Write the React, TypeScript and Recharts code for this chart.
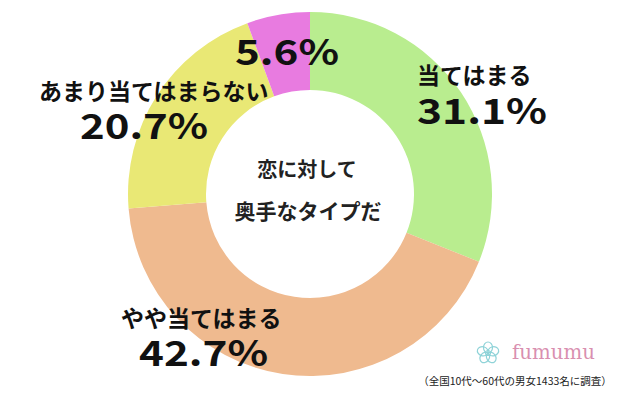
import React from "react";
import { PieChart, Pie, Cell } from "recharts";

const categories = ["当てはまる", "やや当てはまる", "あまり当てはまらない", "当てはまらない"];
const values = [31.1, 42.7, 20.7, 5.6];
const showName = [true, true, true, false];
const colors = ["#b9ed8f", "#efba8f", "#e9e875", "#e87be0"];

const centerLines = ["恋に対して", "奥手なタイプだ"];
const footerNote = "（全国10代～60代の男女1433名に調査）";
const brand = "fumumu";

const data = categories.map((name, i) => ({ name, value: values[i] }));

// label layout (positions only)
const LABEL_LAYOUT: Record<string, { nx: number; ny: number; vx: number; vy: number; vw: number }> = {
  "当てはまる": { nx: 417, ny: 84, vx: 417, vy: 124, vw: 130 },
  "やや当てはまる": { nx: 121, ny: 327, vx: 139, vy: 366, vw: 129 },
  "あまり当てはまらない": { nx: 39, ny: 100, vx: 80, vy: 139, vw: 128 },
  "当てはまらない": { nx: 0, ny: 0, vx: 235, vy: 65, vw: 104 },
};

const FONT = "'Noto Sans CJK JP', 'Noto Sans', sans-serif";

const renderLabel = (props: any) => {
  const name = props.name ?? props.payload?.name;
  const value = props.value ?? props.payload?.value;
  const idx = categories.indexOf(name);
  const L = LABEL_LAYOUT[name];
  if (!L) return null;
  return (
    <g key={name}>
      {showName[idx] && (
        <text x={L.nx} y={L.ny} fontSize={23} fontWeight={700} fill="#111" fontFamily={FONT} textAnchor="start">
          {name}
        </text>
      )}
      <text
        x={L.vx}
        y={L.vy}
        fontSize={35}
        fontWeight={700}
        fill="#111"
        fontFamily={FONT}
        textAnchor="start"
        textLength={L.vw}
        lengthAdjust="spacingAndGlyphs"
      >
        {`${value.toFixed(1)}%`}
      </text>
    </g>
  );
};

export default function App() {
  return (
    <div style={{ position: "absolute", left: 0, top: 0, width: 621, height: 398, background: "#fff", fontFamily: FONT }}>
      <PieChart width={621} height={398} margin={{ top: 0, right: 0, bottom: 0, left: 0 }}>
        <Pie
          data={data}
          dataKey="value"
          nameKey="name"
          cx={310}
          cy={194}
          innerRadius={104}
          outerRadius={182}
          startAngle={90}
          endAngle={-270}
          stroke="none"
          isAnimationActive={false}
          label={renderLabel}
          labelLine={false}
        >
          {data.map((d, i) => (
            <Cell key={d.name} fill={colors[i]} />
          ))}
        </Pie>
      </PieChart>
      <svg width={621} height={398} style={{ position: "absolute", left: 0, top: 0, pointerEvents: "none" }}>
        <text x={307} y={177} fontSize={20} fontWeight={700} fill="#222" fontFamily={FONT} textAnchor="middle">
          {centerLines[0]}
        </text>
        <text x={308} y={219} fontSize={21} fontWeight={700} fill="#222" fontFamily={FONT} textAnchor="middle">
          {centerLines[1]}
        </text>
        <g transform="translate(488,353)" fill="none" stroke="#8fd3d8" strokeWidth={1.2}>
          {[0, 72, 144, 216, 288].map((a) => (
            <ellipse key={a} cx={0} cy={-5.5} rx={4.5} ry={5.5} transform={`rotate(${a})`} />
          ))}
          <circle cx={0} cy={0} r={2.5} />
        </g>
        <text x={512} y={359} fontSize={20} fill="#d98fb0" fontFamily="'DejaVu Serif', 'Liberation Serif', serif" textLength={83} lengthAdjust="spacingAndGlyphs">
          {brand}
        </text>
        <text x={515} y={385} fontSize={10.5} fill="#222" fontFamily={FONT} textAnchor="middle">
          {footerNote}
        </text>
      </svg>
    </div>
  );
}
